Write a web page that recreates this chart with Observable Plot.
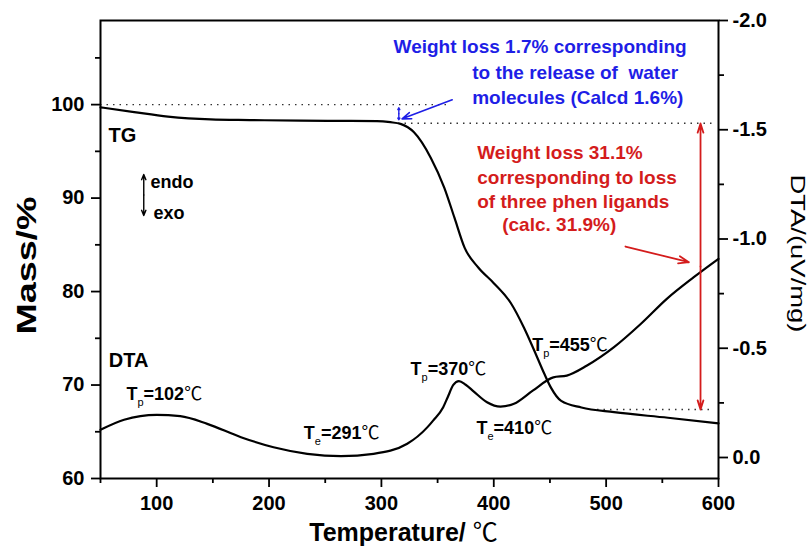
<!DOCTYPE html>
<html><head><meta charset="utf-8">
<script src="https://cdn.jsdelivr.net/npm/d3@7"></script>
<script src="https://cdn.jsdelivr.net/npm/@observablehq/plot@0.6"></script>
<style>body{margin:0;background:#fff}</style>
</head><body><div id="chart"></div>
<script>
// ---- data ----
const tgTemperature = [50,80,110,148,183,228,270,296,308,317,329,344,356,365,374,386,400,415,427,436,445,451,460,478,507,555,600];
const tgMass        = [99.71,99.2,98.72,98.42,98.35,98.28,98.26,98.24,98.12,97.94,97.04,94.3,91.1,87.9,84.7,82.6,80.9,78.8,76.1,73.7,71.2,69.7,68.3,67.6,67.1,66.5,65.9];

const dtaTemperature = [50,71,100,121,145,175,204,234,264,293,323,341,346,355,359,364,369,375,382,394,406,418,435,453,465,483,507,531,554,578,600];
const dtaValue       = [-0.127,-0.173,-0.195,-0.189,-0.154,-0.093,-0.047,-0.017,-0.006,-0.017,-0.063,-0.139,-0.169,-0.230,-0.276,-0.332,-0.350,-0.333,-0.303,-0.253,-0.233,-0.246,-0.307,-0.367,-0.375,-0.421,-0.505,-0.612,-0.726,-0.825,-0.909];

const xTicks = [100,200,300,400,500,600];
const xMinorTicks = [50,150,250,350,450,550];
const massTicks = [60,70,80,90,100];
const massMinorTicks = [65,75,85,95,105];
const dtaTicks = [-2.0,-1.5,-1.0,-0.5,0.0];
const dtaTickLabels = ["-2.0","-1.5","-1.0","-0.5","0.0"];
const dtaMinorTicks = [-1.75,-1.25,-0.75,-0.25];

const xTitle = "Temperature/ ℃";
const leftTitle = "Mass/%";
const rightTitle = "DTA/(uV/mg)";

// annotations (data coordinates: temperature, mass)
const curveLabels = [
  {text: "TG", t: 57.1, m: 95.98},
  {text: "DTA", t: 57.4, m: 71.98}
];
const endoExoLabels = [
  {text: "endo", t: 94.5, m: 91.1},
  {text: "exo", t: 97.2, m: 87.71}
];
const peakLabels = [
  {text: "Tp=102℃", t: 73.1, m: 68.35},
  {text: "Te=291℃", t: 230.9, m: 64.25},
  {text: "Tp=370℃", t: 325.9, m: 71.02},
  {text: "Te=410℃", t: 384.6, m: 64.78},
  {text: "Tp=455℃", t: 434.2, m: 73.69}
];
const blueNote = [
  {text: "Weight loss 1.7% corresponding", t: 310.8, m: 105.47},
  {text: "to the release of  water", t: 380.8, m: 102.74},
  {text: "molecules (Calcd 1.6%)", t: 380.8, m: 100.07}
];
const redNote = [
  {text: "Weight loss 31.1%", t: 385.3, m: 94.18},
  {text: "corresponding to loss", t: 385.3, m: 91.51},
  {text: "of three phen ligands", t: 385.3, m: 88.94},
  {text: "(calc. 31.9%)", t: 407.5, m: 86.43}
];
const dottedLines = [
  {m: 100, t1: 50, t2: 361.5},
  {m: 98.0, t1: 315.2, t2: 594.7},
  {m: 67.38, t1: 492.3, t2: 595.6}
];
const endoExoArrows = [
  {t1: 88.5, m1: 90.33, t2: 88.5, m2: 92.52},
  {t1: 88.5, m1: 90.33, t2: 88.5, m2: 88.14}
];
const bluePointer = [{t1: 363.0, m1: 100.52, t2: 318.4, m2: 98.48}];
const blueSpan = [
  {t1: 315.5, m1: 99.02, t2: 315.5, m2: 99.66},
  {t1: 315.5, m1: 99.02, t2: 315.5, m2: 98.38}
];
const redPointer = [{t1: 517.2, m1: 84.82, t2: 573.6, m2: 83.14}];
const redSpan = [
  {t1: 584, m1: 82.68, t2: 584, m2: 97.98},
  {t1: 584, m1: 82.68, t2: 584, m2: 67.38}
];

// ---- scales: DTA (right axis, reversed) mapped onto mass axis ----
const massDomain = [60, 109];
const dtaTop = -2.0, dtaBottom = 0.0961;
const dtaToMass = d => massDomain[1] - (d - dtaTop) / (dtaBottom - dtaTop) * (massDomain[1] - massDomain[0]);

const tg = tgTemperature.map((t, i) => ({t, m: tgMass[i]}));
const dta = dtaTemperature.map((t, i) => ({t, m: dtaToMass(dtaValue[i])}));
const rightMap = new Map(dtaTicks.map((d, i) => [dtaToMass(d), dtaTickLabels[i]]));

const FONT = "'Liberation Sans', Arial, sans-serif";
const BLUE = "#1e1ee6", RED = "#d41c1c";
const seg = {x1: "t1", y1: "m1", x2: "t2", y2: "m2"};

const plot = Plot.plot({
  width: 809, height: 547,
  marginLeft: 100, marginRight: 91, marginTop: 20, marginBottom: 69,
  style: {fontFamily: FONT, fontWeight: "bold", fontSize: "20px", color: "#000", background: "#fff"},
  x: {domain: [50, 600], label: null},
  y: {domain: massDomain, label: null},
  marks: [
    Plot.ruleY(dottedLines, {y: "m", x1: "t1", x2: "t2", stroke: "#333", strokeWidth: 1.4, strokeDasharray: "1.5 5"}),
    Plot.line(tg, {x: "t", y: "m", curve: "monotone-x", stroke: "#000", strokeWidth: 2.2}),
    Plot.line(dta, {x: "t", y: "m", curve: "monotone-x", stroke: "#000", strokeWidth: 2.2}),
    Plot.axisX(xTicks, {tickSize: 9, tickPadding: 8, strokeWidth: 1.8, label: null, fontSize: 20}),
    Plot.axisX(xMinorTicks, {tickSize: 5, strokeWidth: 1.8, tickFormat: () => "", label: null}),
    Plot.axisY(massTicks, {anchor: "left", tickSize: 9, tickPadding: 7, strokeWidth: 1.8, label: null, fontSize: 20}),
    Plot.axisY(massMinorTicks, {anchor: "left", tickSize: 5, strokeWidth: 1.8, tickFormat: () => "", label: null}),
    Plot.axisY(dtaTicks.map(dtaToMass), {anchor: "right", tickSize: 9, tickPadding: 5, strokeWidth: 1.8, label: null, fontSize: 20, tickFormat: m => rightMap.get(m) ?? ""}),
    Plot.axisY(dtaMinorTicks.map(dtaToMass), {anchor: "right", tickSize: 5, strokeWidth: 1.8, tickFormat: () => "", label: null}),
    Plot.frame({stroke: "#000", strokeWidth: 2}),
    Plot.text(curveLabels, {x: "t", y: "m", text: "text", textAnchor: "start", lineAnchor: "bottom", fontSize: 20, fontWeight: "bold"}),
    Plot.text(endoExoLabels, {x: "t", y: "m", text: "text", textAnchor: "start", lineAnchor: "bottom", fontSize: 18, fontWeight: "bold"}),
    Plot.text(peakLabels, {x: "t", y: "m", text: "text", textAnchor: "start", lineAnchor: "bottom", fontSize: 18, fontWeight: "bold"}),
    Plot.text(blueNote, {x: "t", y: "m", text: "text", textAnchor: "start", lineAnchor: "bottom", fontSize: 19, fontWeight: "bold", fill: BLUE}),
    Plot.text(redNote, {x: "t", y: "m", text: "text", textAnchor: "start", lineAnchor: "bottom", fontSize: 19, fontWeight: "bold", fill: RED}),
    Plot.arrow(endoExoArrows, {...seg, stroke: "#000", strokeWidth: 1.4, headLength: 6, headAngle: 45}),
    Plot.arrow(bluePointer, {...seg, stroke: BLUE, strokeWidth: 1.6, headLength: 9, headAngle: 40}),
    Plot.arrow(blueSpan, {...seg, stroke: BLUE, strokeWidth: 1.4, headLength: 4, headAngle: 60}),
    Plot.arrow(redPointer, {...seg, stroke: RED, strokeWidth: 1.8, headLength: 9, headAngle: 40}),
    Plot.arrow(redSpan, {...seg, stroke: RED, strokeWidth: 1.8, headLength: 8, headAngle: 35}),
    Plot.text([xTitle], {frameAnchor: "bottom", textAnchor: "middle", dx: -6, dy: 62, lineAnchor: "bottom", fontSize: 25, fontWeight: "bold"}),
    Plot.text([leftTitle], {frameAnchor: "left", textAnchor: "middle", dx: -65, dy: 16, rotate: -90, lineAnchor: "bottom", fontSize: 28, fontWeight: "bold"}),
    Plot.text([rightTitle], {frameAnchor: "right", textAnchor: "middle", dx: 72, dy: 4, rotate: 90, lineAnchor: "bottom", fontSize: 21, fontWeight: "normal"})
  ]
});

// rich text: subscripts and the ℃ glyph; stretch the rotated titles like the reference
d3.select(plot).selectAll("text").each(function () {
  if (this.children.length) return;
  const s = this.textContent;
  const sel = d3.select(this);
  if (s === leftTitle) sel.attr("textLength", 138).attr("lengthAdjust", "spacingAndGlyphs");
  if (s === rightTitle) sel.attr("textLength", 158).attr("lengthAdjust", "spacingAndGlyphs");
  if (!s.includes("℃")) return;
  const m = /^T([pe])(=.*)℃$/.exec(s);
  sel.text(null);
  if (m) {
    sel.append("tspan").text("T");
    sel.append("tspan").attr("font-size", "11px").attr("font-weight", "normal").attr("dy", "6").text(m[1]);
    sel.append("tspan").attr("dy", "-6").text(m[2]);
  } else {
    sel.append("tspan").text(s.replace("℃", ""));
  }
  sel.append("tspan").attr("font-family", "'Noto Sans CJK SC'").attr("font-weight", "normal").text("℃");
});

document.getElementById("chart").appendChild(plot);
</script>
</body></html>
